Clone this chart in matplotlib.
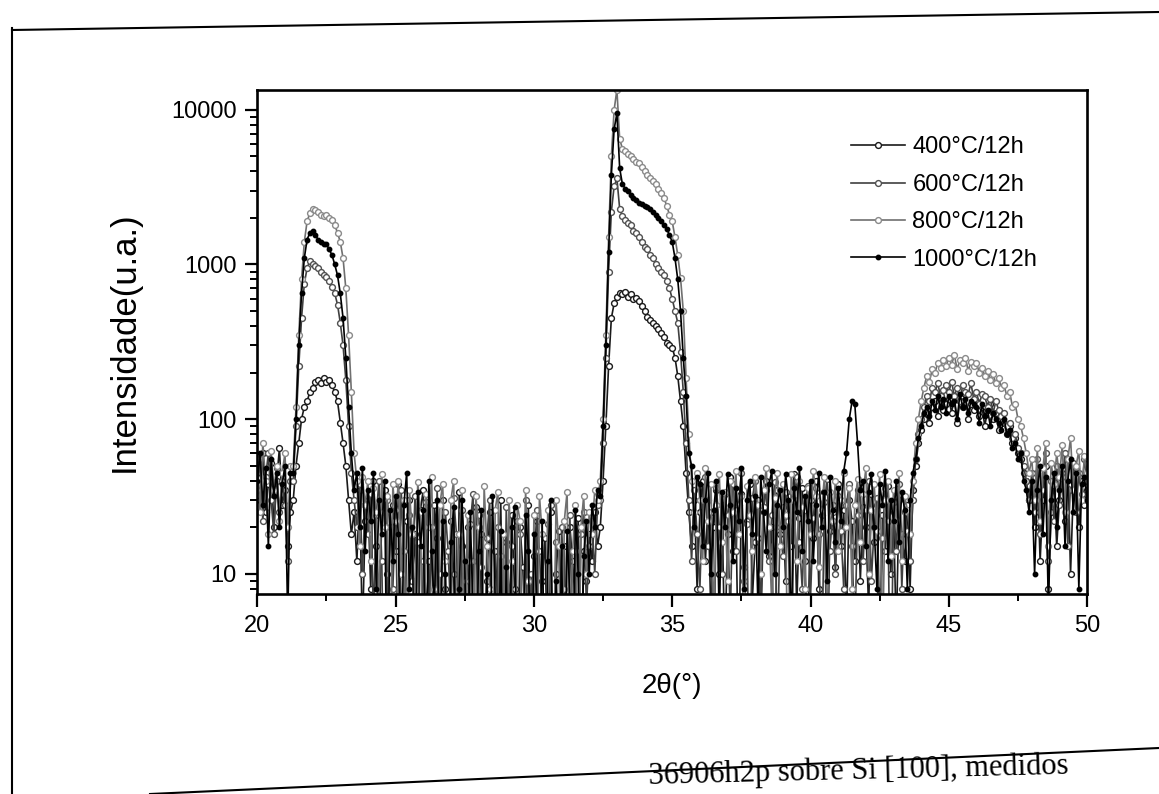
import numpy as np
import matplotlib
matplotlib.use("Agg")
from matplotlib import pyplot as plt
from matplotlib.ticker import FixedLocator, LogLocator, NullFormatter, MultipleLocator

plt.rcParams['font.family'] = ['Liberation Sans', 'DejaVu Sans']

# 2theta grid starts at 20 deg, step 0.1 deg
start_2theta = 20.0
step_2theta = 0.1

labels = ['400°C/12h', '600°C/12h', '800°C/12h', '1000°C/12h']

s400 = [45, 30, 60, 25, 38, 52, 20, 40, 65, 28,
        35, 15, 25, 30, 50, 70, 100, 120, 130, 150,
        160, 175, 180, 170, 185, 175, 180, 165, 150, 130,
        95, 70, 50, 30, 18, 25, 12, 35, 4, 22,
        30, 8, 40, 15, 3, 25, 35, 10, 2, 28,
        14, 38, 6, 1, 22, 30, 9, 18, 2, 26,
        35, 5, 12, 1, 28, 17, 3, 30, 8, 1,
        22, 10, 1, 34, 15, 4, 20, 1, 12, 27,
        3, 18, 1, 9, 25, 1, 14, 6, 30, 2,
        16, 1, 24, 8, 1, 20, 11, 3, 28, 1,
        13, 22, 1, 9, 17, 2, 25, 1, 10, 19,
        4, 15, 1, 20, 12, 6, 23, 2, 14, 9,
        18, 12, 25, 15, 20, 40, 90, 220, 450, 560,
        620, 650, 640, 660, 620, 640, 600, 610, 580, 540,
        500, 460, 440, 420, 400, 380, 360, 340, 310, 300,
        290, 250, 190, 130, 90, 45, 25, 15, 30, 8,
        25, 40, 12, 30, 5, 20, 35, 10, 28, 3,
        18, 42, 14, 26, 2, 33, 11, 22, 38, 7,
        16, 30, 4, 25, 40, 13, 20, 1, 35, 18,
        27, 9, 32, 15, 44, 6, 23, 36, 12, 3,
        30, 17, 40, 8, 24, 34, 2, 19, 28, 11,
        38, 15, 26, 5, 30, 22, 12, 35, 9, 27,
        20, 6, 33, 16, 28, 1, 24, 14, 37, 10,
        25, 4, 30, 18, 12, 28, 8, 35, 50, 70,
        85, 100, 110, 95, 120, 130, 105, 140, 115, 125,
        135, 110, 140, 95, 130, 120, 145, 100, 125, 115,
        130, 105, 120, 90, 115, 125, 100, 110, 85, 105,
        95, 80, 90, 70, 75, 60, 55, 45, 40, 30,
        35, 20, 45, 12, 30, 50, 8, 25, 40, 15,
        30, 45, 22, 55, 10, 35, 48, 20, 40, 28,
        35]

s600 = [35, 55, 22, 42, 60, 30, 18, 48, 25, 40,
        28, 12, 40, 40, 90, 220, 450, 750, 950, 1050,
        1000, 980, 950, 900, 850, 830, 780, 720, 650, 550,
        420, 300, 180, 90, 45, 30, 20, 38, 10, 28,
        18, 33, 5, 24, 40, 12, 1, 30, 20, 8,
        26, 2, 35, 14, 1, 24, 9, 32, 16, 1,
        12, 29, 4, 20, 1, 36, 10, 1, 25, 14,
        5, 31, 18, 1, 26, 9, 1, 21, 33, 2,
        24, 11, 1, 17, 30, 4, 1, 20, 13, 1,
        27, 6, 15, 1, 22, 18, 2, 30, 1, 10,
        1, 26, 14, 5, 1, 21, 28, 2, 16, 1,
        20, 8, 1, 24, 3, 14, 1, 18, 25, 6,
        15, 22, 10, 28, 30, 70, 250, 900, 2200, 3200,
        3600, 2300, 2050, 1950, 1850, 1800, 1650, 1600, 1500, 1400,
        1300, 1250, 1150, 1100, 1000, 950, 900, 850, 780, 700,
        600, 500, 420, 270, 150, 70, 30, 12, 35, 18,
        8, 30, 42, 15, 25, 2, 36, 20, 10, 33,
        24, 5, 38, 14, 28, 45, 9, 21, 1, 31,
        40, 17, 6, 27, 35, 12, 24, 39, 3, 20,
        13, 34, 22, 1, 30, 42, 16, 8, 26, 37,
        7, 23, 36, 18, 2, 29, 41, 14, 25, 10,
        32, 19, 8, 28, 38, 15, 4, 24, 35, 12,
        26, 40, 9, 20, 31, 5, 17, 36, 22, 1,
        29, 14, 38, 8, 25, 19, 12, 30, 55, 80,
        100, 120, 140, 130, 160, 150, 170, 140, 155, 165,
        150, 175, 140, 160, 130, 165, 150, 145, 170, 135,
        150, 125, 145, 140, 120, 135, 110, 130, 115, 105,
        110, 90, 95, 75, 80, 65, 60, 50, 40, 30,
        45, 25, 55, 18, 35, 60, 12, 40, 22, 50,
        28, 42, 60, 15, 38, 52, 25, 45, 33, 55,
        40]

s800 = [55, 25, 70, 40, 18, 62, 35, 50, 22, 45,
        60, 20, 50, 50, 120, 350, 800, 1400, 1900, 2150,
        2300, 2250, 2200, 2100, 2050, 2100, 2000, 1950, 1800, 1600,
        1400, 1100, 700, 350, 150, 60, 40, 15, 42, 28,
        40, 12, 36, 25, 6, 44, 20, 32, 1, 38,
        22, 40, 10, 30, 1, 35, 18, 6, 39, 25,
        1, 33, 20, 42, 8, 1, 28, 38, 12, 1,
        30, 40, 2, 18, 35, 1, 24, 12, 1, 32,
        20, 1, 37, 15, 8, 1, 26, 34, 1, 18,
        1, 30, 12, 1, 28, 22, 1, 35, 9, 1,
        24, 1, 32, 18, 1, 26, 7, 1, 30, 15,
        1, 22, 34, 1, 14, 28, 1, 20, 32, 10,
        25, 18, 35, 30, 40, 100, 350, 1500, 5000, 10000,
        13500, 6500, 5600, 5400, 5200, 5000, 4800, 4600, 4500, 4300,
        4000, 3800, 3600, 3450, 3300, 3100, 2900, 2700, 2400, 2100,
        1900, 1500, 1150, 820, 500, 185, 80, 40, 25, 45,
        30, 12, 48, 22, 38, 5, 28, 44, 16, 34,
        9, 40, 25, 46, 18, 32, 2, 37, 24, 14,
        42, 28, 10, 35, 48, 20, 6, 31, 45, 15,
        38, 24, 1, 44, 30, 12, 40, 27, 8, 36,
        18, 46, 32, 11, 26, 42, 4, 34, 22, 40,
        14, 30, 45, 20, 36, 8, 28, 41, 16, 33,
        48, 10, 26, 38, 19, 44, 3, 30, 40, 13,
        35, 22, 45, 12, 32, 26, 18, 40, 70, 100,
        130, 160, 190, 175, 210, 200, 230, 215, 240, 220,
        250, 225, 260, 210, 240, 230, 250, 205, 235, 220,
        230, 200, 215, 190, 205, 180, 195, 170, 185, 160,
        165, 140, 150, 120, 125, 100, 90, 75, 60, 45,
        55, 30, 65, 22, 48, 70, 15, 52, 38, 60,
        42, 68, 25, 55, 75, 35, 50, 62, 30, 58,
        45]

s1000 = [40, 60, 28, 48, 15, 55, 32, 45, 20, 38,
         50, 5, 45, 45, 100, 300, 650, 1100, 1450, 1600,
         1650, 1550, 1450, 1400, 1350, 1350, 1250, 1150, 1000, 850,
         650, 450, 250, 120, 60, 35, 45, 20, 48, 14,
         35, 22, 45, 8, 30, 18, 40, 1, 26, 12,
         32, 18, 1, 28, 45, 8, 20, 1, 34, 15,
         26, 1, 40, 14, 6, 30, 1, 22, 10, 1,
         16, 27, 1, 8, 30, 12, 1, 25, 5, 1,
         14, 26, 1, 10, 1, 32, 7, 1, 19, 1,
         11, 1, 20, 27, 1, 6, 1, 24, 14, 1,
         18, 7, 1, 22, 1, 12, 30, 1, 9, 1,
         15, 1, 19, 7, 1, 26, 10, 1, 13, 22,
         10, 28, 20, 35, 32, 90, 300, 1200, 3800, 7500,
         9500, 4200, 3300, 3100, 3000, 2800, 2700, 2600, 2500, 2450,
         2400, 2350, 2300, 2200, 2100, 2000, 1900, 1800, 1700, 1550,
         1400, 1100, 800, 500, 250, 140, 60, 50, 20, 42,
         38, 15, 30, 45, 10, 26, 40, 5, 34, 20,
         44, 28, 12, 36, 22, 48, 8, 30, 40, 18,
         32, 6, 42, 25, 14, 38, 46, 10, 28, 35,
         20, 44, 30, 4, 36, 25, 48, 14, 32, 22,
         40, 12, 28, 45, 20, 34, 9, 42, 26, 16,
         36, 22, 46, 60, 100, 130, 125, 70, 35, 40,
         15, 34, 44, 20, 8, 38, 28, 46, 12, 30,
         22, 40, 16, 34, 26, 8, 30, 45, 55, 75,
         90, 110, 120, 105, 130, 115, 140, 120, 135, 110,
         140, 125, 130, 100, 145, 120, 135, 110, 130, 125,
         120, 95, 125, 105, 115, 90, 110, 100, 95, 85,
         100, 80, 85, 65, 70, 55, 60, 40, 35, 25,
         40, 10, 35, 50, 18, 42, 6, 30, 45, 20,
         35, 50, 15, 40, 55, 25, 45, 8, 38, 42,
         30]

series = [s400, s600, s800, s1000]
line_colors = ['#1a1a1a', '#404040', '#707070', '#000000']
face_colors = ['white', 'white', 'white', 'black']
edge_colors = ['#1a1a1a', '#505050', '#8a8a8a', '#000000']
msizes = [4.2, 4.2, 4.2, 3.2]

fig = plt.figure(figsize=(11.59, 7.94), dpi=100)
ax = fig.add_axes([0.222, 0.252, 0.716, 0.635])

for vals, lab, lc, fc, ec, ms in zip(series, labels, line_colors, face_colors, edge_colors, msizes):
    y = np.array(vals, dtype=float)
    x = start_2theta + step_2theta * np.arange(len(y))
    ax.plot(x, y, '-', color=lc, lw=1.2, marker='o', ms=ms,
            mfc=fc, mec=ec, mew=1.0, label=lab)

ax.set_yscale('log')
ax.set_xlim(20, 50)
ax.set_ylim(7.4, 13500)
ax.xaxis.set_major_locator(MultipleLocator(5))
ax.xaxis.set_minor_locator(MultipleLocator(2.5))
ax.yaxis.set_major_locator(FixedLocator([10, 100, 1000, 10000]))
ax.set_yticklabels(['10', '100', '1000', '10000'])
ax.yaxis.set_minor_locator(LogLocator(base=10, subs=np.arange(2, 10)))
ax.yaxis.set_minor_formatter(NullFormatter())

ax.tick_params(which='major', direction='out', length=9, width=1.6, labelsize=17,
               top=False, right=False, pad=6)
ax.tick_params(which='minor', direction='out', length=5, width=1.4,
               top=False, right=False)
for sp in ax.spines.values():
    sp.set_linewidth(1.9)

ax.set_xlabel('2θ(°)', fontsize=20, labelpad=26)
ax.set_ylabel('Intensidade(u.a.)', fontsize=25, labelpad=22)

ax.legend(loc='upper left', bbox_to_anchor=(0.724, 0.843), bbox_transform=fig.transFigure,
          frameon=False, fontsize=17, handlelength=2.3, handletextpad=0.3,
          labelspacing=0.65, borderpad=0, numpoints=1)

# page border and caption fragment of the scanned page
fig.add_artist(plt.Line2D([12 / 1159, 12 / 1159], [0, 1 - 28 / 794], transform=fig.transFigure,
                          color='black', lw=1.5))
fig.add_artist(plt.Line2D([12 / 1159, 1.0], [1 - 30 / 794, 1 - 12 / 794], transform=fig.transFigure,
                          color='black', lw=1.5))
fig.add_artist(plt.Line2D([150 / 1159, 1.0], [1 - 794 / 794, 1 - 748 / 794], transform=fig.transFigure,
                          color='black', lw=1.5))
fig.text(648 / 1159, 1 - 784 / 794, '36906h2p sobre Si [100], medidos', fontsize=22,
         family=['Liberation Serif', 'DejaVu Serif'], rotation=1.4, ha='left', va='baseline')

fig.savefig('out.png', dpi=100)
